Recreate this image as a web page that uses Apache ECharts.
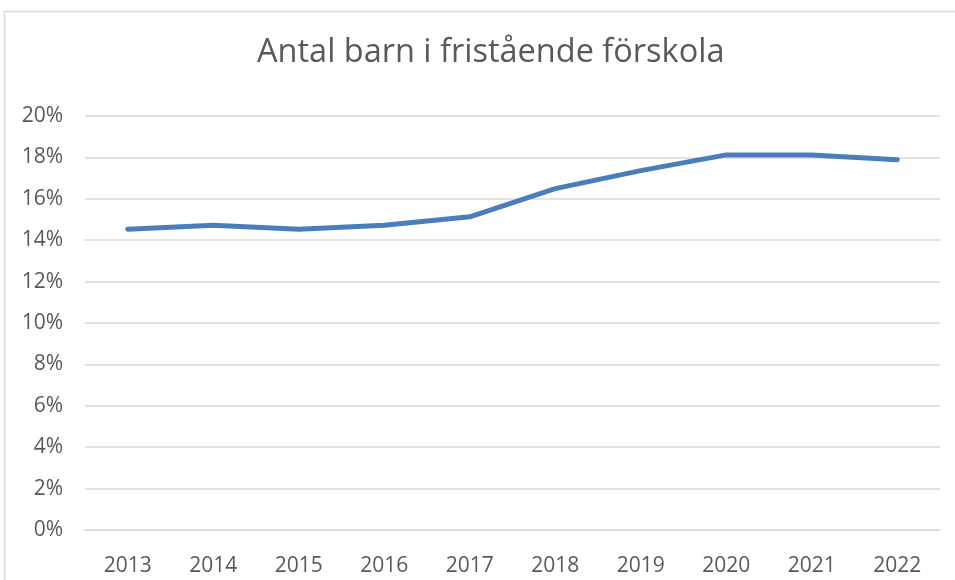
<!DOCTYPE html>
<html><head><meta charset="utf-8">
<script src="https://cdn.jsdelivr.net/npm/echarts@6/dist/echarts.min.js"></script>
<style>html,body{margin:0;padding:0;background:#fff}#c{width:955px;height:580px}</style>
</head><body><div id="c"></div>
<script>
const years = ['2013','2014','2015','2016','2017','2018','2019','2020','2021','2022'];
const shares = [14.53, 14.72, 14.53, 14.72, 15.13, 16.49, 17.36, 18.12, 18.12, 17.89];
const yTicks = [0, 2, 4, 6, 8, 10, 12, 14, 16, 18, 20];

const chart = echarts.init(document.getElementById('c'));
chart.setOption({
  animation: false,
  graphic: [{type:'rect', shape:{x:4.5, y:11.5, width:1000, height:1000}, style:{fill:'none', stroke:'#d9d9d9', lineWidth:1.5}, silent:true}],
  title: {text:'Antal barn i fristående förskola', left:252, top:31,
    textStyle:{fontFamily:'Open Sans', fontWeight:'normal', fontSize:32.5, color:'#595959'}},
  grid: {left:85, right:15, top:116, bottom:50, containLabel:false},
  xAxis: {type:'category', data:years, boundaryGap:true,
    axisLine:{lineStyle:{color:'#d9d9d9', width:1.5}}, axisTick:{show:false},
    axisLabel:{fontFamily:'Open Sans', fontSize:21, color:'#595959', margin:26}},
  yAxis: {type:'value', min:0, max:20, interval:2,
    axisLine:{show:false}, axisTick:{show:false},
    splitLine:{lineStyle:{color:'#d9d9d9', width:1.5}},
    axisLabel:{fontFamily:'Open Sans', fontSize:21, color:'#595959', margin:22, formatter:v=>v+'%'}},
  series: [{type:'line', data:shares, symbol:'none', smooth:false,
    lineStyle:{color:'#4a7ebb', width:5, cap:'round', join:'round'}}]
});
</script></body></html>
